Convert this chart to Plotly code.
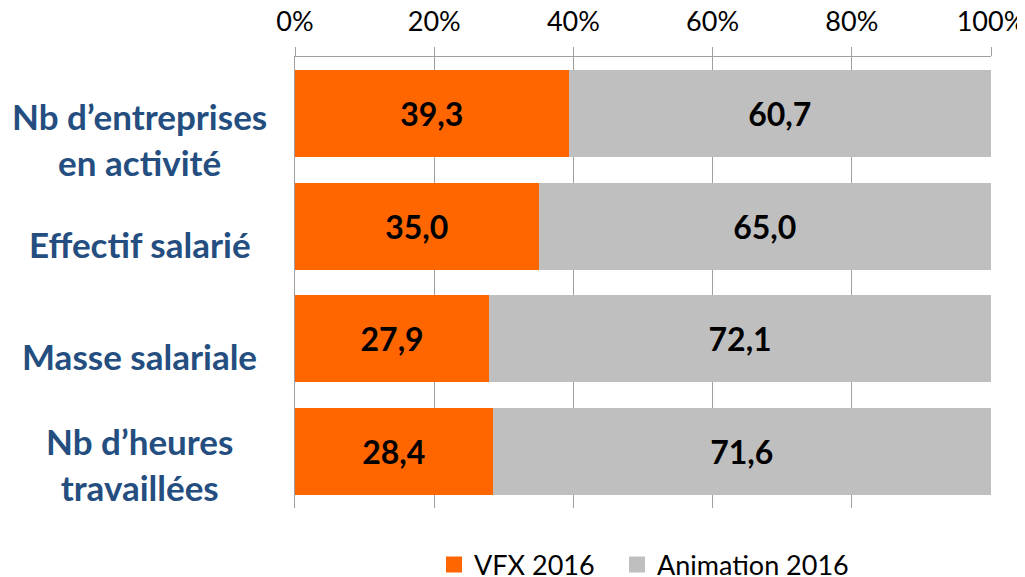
import plotly.graph_objects as go

# Données
categories = ["Nb d’entreprises<br>en activité", "Effectif salarié", "Masse salariale", "Nb d’heures<br>travaillées"]
vfx_2016 = [39.3, 35.0, 27.9, 28.4]
animation_2016 = [60.7, 65.0, 72.1, 71.6]
ticks_x = [0, 20, 40, 60, 80, 100]
ticks_texte = ["0%", "20%", "40%", "60%", "80%", "100%"]

ORANGE = "#FF6600"
GRIS = "#BFBFBF"
# décalage vertical des libellés (comme dans l'original, légèrement sous le centre des barres)
decalages = [-26, -18, -17, -12]


def format_fr(valeurs):
    # virgule décimale à la française
    return [f"{v:.1f}".replace(".", ",") for v in valeurs]


fig = go.Figure()
fig.add_trace(go.Bar(
    y=categories, x=vfx_2016, name="VFX 2016", orientation="h", showlegend=False,
    marker=dict(color=ORANGE, line=dict(width=0)),
    text=format_fr(vfx_2016), textposition="inside", insidetextanchor="middle",
    textfont=dict(family="Lato", size=32, color="black", weight="bold"),
))
fig.add_trace(go.Bar(
    y=categories, x=animation_2016, name="Animation 2016", orientation="h", showlegend=False,
    marker=dict(color=GRIS, line=dict(width=0)),
    text=format_fr(animation_2016), textposition="inside", insidetextanchor="middle",
    textfont=dict(family="Lato", size=32, color="black", weight="bold"),
))

# Entrées de légende (une légende par série pour placer chacune comme dans l'original)
for nom, couleur, leg in [("VFX 2016", ORANGE, "legend"), ("Animation 2016", GRIS, "legend2")]:
    fig.add_trace(go.Scatter(
        x=[None], y=[None], mode="markers", name=nom, legend=leg,
        marker=dict(symbol="square", size=18, color=couleur),
    ))

# Libellés des catégories centrés à gauche
for cat, dy in zip(categories, decalages):
    fig.add_annotation(
        x=-0.223, xref="paper", y=cat, yref="y", text=cat, showarrow=False,
        xanchor="center", yanchor="middle", align="center", yshift=dy,
        font=dict(family="Lato", size=35, color="#254E80", weight="bold"),
    )

police_legende = dict(family="Lato", size=27, color="black")

# la page ajoute 8 px de marge autour du graphique
fig.update_layout(
    barmode="stack",
    bargap=0.23,
    width=1025, height=569,
    margin=dict(l=287, r=42, t=49, b=69, autoexpand=False),
    plot_bgcolor="white", paper_bgcolor="white",
    font=dict(family="Lato", color="black"),
    showlegend=True,
    legend=dict(orientation="h", x=0.1997, xanchor="left", y=-0.126, yanchor="middle",
                font=police_legende, itemwidth=30),
    legend2=dict(orientation="h", x=0.4626, xanchor="left", y=-0.126, yanchor="middle",
                 font=police_legende, itemwidth=30),
    xaxis=dict(
        side="top", range=[0, 100], tickvals=ticks_x, ticktext=ticks_texte,
        showgrid=True, gridcolor="#A0A0A0", gridwidth=1, zeroline=False,
        showline=True, linecolor="#A0A0A0", linewidth=1,
        ticks="outside", ticklen=9, tickcolor="#A0A0A0",
        tickfont=dict(family="Lato", size=27, color="black"),
        ticklabelstandoff=5, automargin=False, ticklabeloverflow="allow",
    ),
    yaxis=dict(
        categoryorder="array", categoryarray=categories, range=[3.5, -0.5],
        showticklabels=False, showgrid=False,
        showline=True, linecolor="#A0A0A0", linewidth=1, ticks="",
        automargin=False,
    ),
)

fig.write_html("out.html")
